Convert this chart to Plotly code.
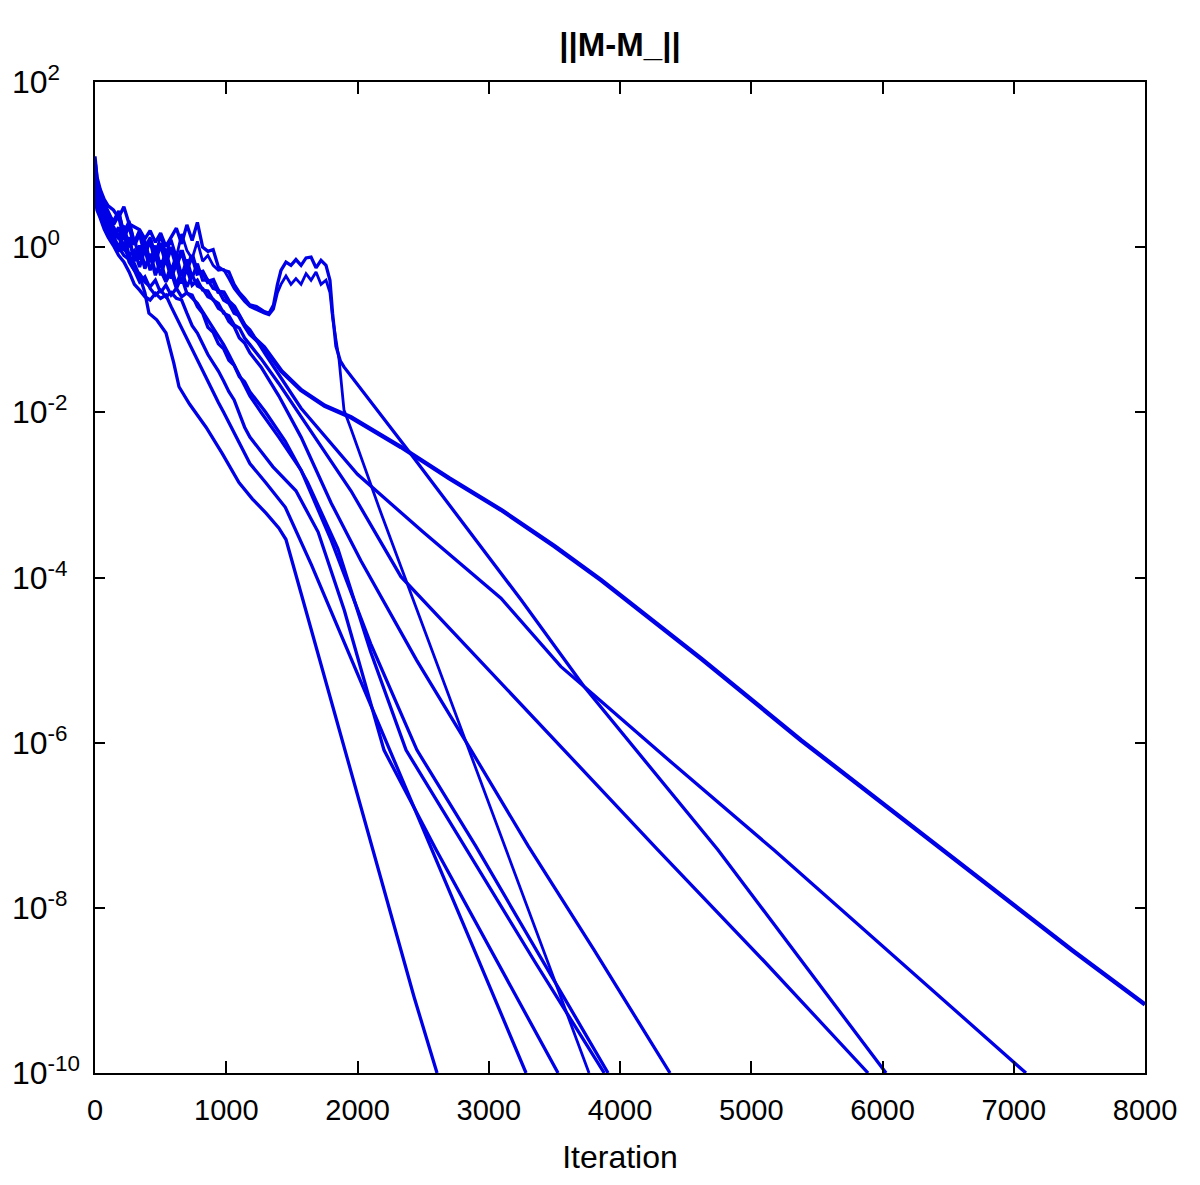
import plotly.graph_objects as go

# iteration / log10(||M-M_||), one pair per run
EARLY = [0, 15, 40, 70, 100, 140, 180, 220, 260, 300, 340, 380, 420, 460, 500, 540, 580, 620, 660, 700,
         740, 780, 820, 860, 900, 940, 980, 1020, 1060, 1100, 1140, 1180]

it_a = EARLY + [1288, 1420, 1570, 1750, 1950, 2331, 2700, 3093, 3500, 3855, 4617, 5379, 6141, 6903, 7450, 8000]
lg_a = [1.00, 0.78, 0.62, 0.52, 0.42, 0.28, 0.40, 0.13, 0.27, 0.03, 0.18, -0.08, 0.10, -0.16, 0.05, -0.18,
        0.00, -0.22, -0.04, -0.26, -0.10, -0.32, -0.30, -0.42, -0.40, -0.54, -0.55, -0.66, -0.72, -0.85, -0.95,
        -1.05, -1.21, -1.50, -1.73, -1.92, -2.06, -2.42, -2.80, -3.18, -3.62, -4.03, -4.98, -5.97, -6.91, -7.84,
        -8.52, -9.17]

it_b = EARLY + [1300, 1570, 2000, 2500, 3093, 3550, 3726, 4400, 5173, 6100, 7093]
lg_b = [0.85, 0.68, 0.55, 0.40, 0.34, 0.20, 0.10, 0.26, 0.00, 0.10, -0.15, 0.08, -0.18, 0.02, -0.25, -0.05,
        -0.29, -0.10, -0.35, -0.15, -0.37, -0.20, -0.40, -0.40, -0.50, -0.52, -0.64, -0.68, -0.80, -0.83, -0.94,
        -1.00, -1.30, -1.95, -2.75, -3.45, -4.25, -5.08, -5.32, -6.25, -7.30, -8.60, -10.0]

it_c = EARLY + [1230, 1290, 1326, 1360, 1390, 1417, 1455, 1493, 1531, 1570, 1608, 1646, 1684, 1722, 1760,
                1790, 1810, 1836, 1870, 1897, 2385, 3246, 3726, 4747, 6027]
lg_c = [1.10, 0.85, 0.70, 0.58, 0.50, 0.45, 0.36, 0.49, 0.28, 0.25, 0.21, 0.10, 0.20, 0.06, 0.17, 0.01, 0.12,
        0.23, 0.04, 0.27, 0.08, 0.30, 0.00, -0.05, -0.03, -0.24, -0.28, -0.30, -0.45, -0.55, -0.62, -0.70,
        -0.72, -0.78, -0.80, -0.70, -0.45, -0.28, -0.18, -0.22, -0.15, -0.22, -0.13, -0.12, -0.25, -0.16, -0.22,
        -0.40, -0.80, -1.20, -1.38, -1.45, -2.46, -4.27, -5.32, -7.30, -10.0]

it_d = EARLY + [1230, 1290, 1326, 1360, 1390, 1417, 1455, 1493, 1531, 1570, 1608, 1646, 1684, 1722, 1760,
                1790, 1810, 1836, 1860, 1897, 1950, 2179, 2850, 3413, 3764]
lg_d = [0.95, 0.75, 0.62, 0.50, 0.40, 0.32, 0.44, 0.18, 0.32, 0.06, 0.21, -0.02, 0.12, -0.10, 0.14, -0.07, 0.09,
        -0.12, 0.16, -0.04, -0.14, 0.07, -0.17, -0.10, -0.22, -0.28, -0.27, -0.38, -0.50, -0.58, -0.66, -0.72,
        -0.76, -0.80, -0.82, -0.75, -0.55, -0.45, -0.35, -0.45, -0.38, -0.45, -0.32, -0.40, -0.30, -0.45, -0.40,
        -0.55, -0.85, -1.15, -1.37, -1.97, -2.20, -3.22, -6.09, -8.51, -10.0]

it_e = [0, 15, 40, 70, 100, 140, 180, 220, 260, 300, 340, 380, 411, 470, 541, 600, 640, 720, 846, 970, 1097,
        1200, 1303, 1400, 1455, 1570, 1798, 2004, 2431, 2606]
lg_e = [0.70, 0.55, 0.42, 0.30, 0.20, 0.10, 0.15, -0.02, -0.10, -0.20, -0.35, -0.55, -0.80, -0.88, -1.04, -1.40,
        -1.69, -1.90, -2.18, -2.50, -2.85, -3.05, -3.22, -3.40, -3.54, -4.19, -5.48, -6.66, -9.08, -10.0]

it_f = EARLY + [1265, 1400, 1570, 1950, 2331, 2900, 3550, 4290, 5100, 5890]
lg_f = [0.80, 0.62, 0.50, 0.36, 0.27, 0.13, 0.00, 0.16, -0.10, -0.04, -0.24, -0.02, -0.28, -0.10, -0.34, -0.14,
        -0.38, -0.20, -0.44, -0.26, -0.46, -0.40, -0.52, -0.53, -0.64, -0.68, -0.80, -0.83, -0.94, -0.98, -1.10,
        -1.18, -1.35, -1.65, -2.05, -2.95, -3.99, -4.95, -6.05, -7.30, -8.65, -10.0]

it_g = EARLY + [1265, 1400, 1570, 1800, 2027, 2450, 2865, 3300, 3802, 4381]
lg_g = [0.90, 0.70, 0.58, 0.45, 0.35, 0.25, 0.13, -0.04, 0.10, -0.17, 0.00, -0.26, -0.10, -0.34, -0.16, -0.40,
        -0.23, -0.46, -0.28, -0.48, -0.34, -0.47, -0.50, -0.60, -0.63, -0.74, -0.78, -0.90, -0.96, -1.10, -1.16,
        -1.28, -1.45, -1.80, -2.30, -3.10, -3.80, -5.00, -6.09, -7.25, -8.51, -10.0]

it_h = EARLY + [1265, 1400, 1570, 1800, 2100, 2453, 2900, 3400, 3909]
lg_h = [0.70, 0.55, 0.45, 0.32, 0.22, 0.10, 0.00, -0.10, -0.15, -0.28, -0.32, -0.42, -0.48, -0.40, -0.55, -0.46,
        -0.58, -0.50, -0.60, -0.55, -0.62, -0.68, -0.78, -0.88, -0.98, -1.08, -1.18, -1.30, -1.42, -1.55, -1.68,
        -1.80, -2.00, -2.30, -2.70, -3.55, -4.80, -6.09, -7.25, -8.62, -10.0]

it_i = EARLY + [1300, 1450, 1620, 1850, 2100, 2370, 2850, 3350, 3880]
lg_i = [0.75, 0.60, 0.48, 0.36, 0.25, 0.12, 0.24, -0.02, 0.12, -0.16, 0.02, -0.24, -0.08, -0.30, -0.28, -0.42,
        -0.30, -0.50, -0.36, -0.56, -0.58, -0.72, -0.80, -0.97, -1.03, -1.17, -1.23, -1.37, -1.43, -1.57, -1.63,
        -1.75, -2.00, -2.35, -2.85, -3.65, -4.90, -6.09, -7.35, -8.65, -10.0]

it_j = EARLY + [1356, 1531, 1700, 1900, 2202, 2600, 3050, 3528]
lg_j = [0.65, 0.50, 0.40, 0.28, 0.18, 0.08, -0.05, 0.06, -0.18, -0.28, -0.42, -0.36, -0.50, -0.58, -0.52, -0.60,
        -0.55, -0.62, -0.64, -0.80, -0.95, -1.04, -1.18, -1.30, -1.40, -1.50, -1.62, -1.75, -1.85, -2.02, -2.18,
        -2.30, -2.66, -2.95, -3.45, -4.40, -6.09, -7.30, -8.60, -10.0]

it_k = EARLY + [1300, 1450, 1650, 1850, 2065, 2450, 2850, 3284]
lg_k = [0.60, 0.45, 0.35, 0.22, 0.12, 0.02, -0.10, -0.18, -0.30, -0.45, -0.52, -0.60, -0.64, -0.56, -0.62, -0.58,
        -0.72, -0.85, -0.98, -1.12, -1.25, -1.38, -1.50, -1.62, -1.75, -1.88, -2.00, -2.12, -2.25, -2.38, -2.50,
        -2.62, -2.85, -3.15, -3.85, -4.60, -5.40, -6.85, -8.36, -10.0]

RUNS = [(it_a, lg_a, 4.4), (it_b, lg_b, 3.3), (it_c, lg_c, 3.3), (it_d, lg_d, 2.8), (it_e, lg_e, 3.3),
        (it_f, lg_f, 3.3), (it_g, lg_g, 3.3), (it_h, lg_h, 3.3), (it_i, lg_i, 3.3), (it_j, lg_j, 3.3),
        (it_k, lg_k, 3.3)]

x_ticks = [0, 1000, 2000, 3000, 4000, 5000, 6000, 7000, 8000]
y_exps = [2, 0, -2, -4, -6, -8, -10]

BLUE = "#0000e6"
FONT = "Liberation Sans, Arial, sans-serif"

fig = go.Figure()
for its, lgs, w in RUNS:
    fig.add_trace(go.Scatter(
        x=its, y=[10 ** v for v in lgs], mode="lines",
        line=dict(color=BLUE, width=w), hoverinfo="skip",
    ))

# y labels are left-aligned in the original, so they are drawn as annotations
for e in y_exps:
    fig.add_annotation(
        text=f"10<sup>{e}</sup>", xref="paper", x=0, xanchor="left", xshift=-85,
        yref="y", y=e, yanchor="middle", yshift=2, showarrow=False, font=dict(size=32),
    )

# page body has an 8px margin, so the margins are 8px short of the target plot box
fig.update_layout(
    width=1200, height=1185,
    margin=dict(l=87, r=63, t=74, b=120),
    paper_bgcolor="white", plot_bgcolor="white",
    showlegend=False,
    font=dict(family=FONT, color="black", size=29),
    title=dict(text="<b>||M-M_||</b>", font=dict(size=33),
               x=0.5, xref="paper", xanchor="center", y=1 - 36 / 1185, yref="container", yanchor="middle"),
)
fig.update_xaxes(
    range=[0, 8000], tickvals=x_ticks, ticks="inside", ticklen=12, tickwidth=2, tickcolor="black",
    showline=True, linewidth=2, linecolor="black", mirror="ticks", showgrid=False, zeroline=False,
    automargin=False, tickfont=dict(size=29), ticklabelstandoff=10,
    title=dict(text="Iteration", font=dict(size=32), standoff=21),
)
fig.update_yaxes(
    type="log", range=[-10, 2], tickvals=[10 ** e for e in y_exps], showticklabels=False,
    ticks="inside", ticklen=10, tickwidth=2, tickcolor="black",
    showline=True, linewidth=2, linecolor="black", mirror="ticks", showgrid=False, zeroline=False,
    automargin=False,
)

fig.write_html("out.html")
